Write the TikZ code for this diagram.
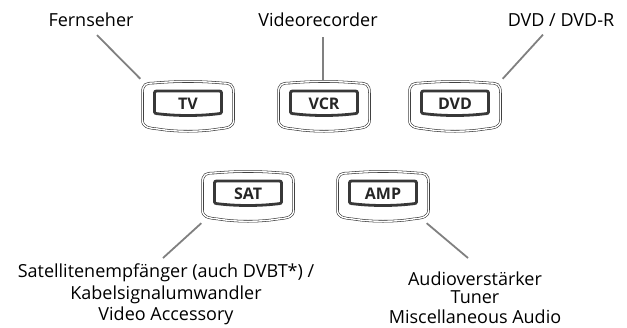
\documentclass[tikz,border=0pt]{standalone}
\usepackage{fontspec}
\setmainfont{Open Sans}
\begin{document}
\begin{tikzpicture}[x=1pt,y=-1pt,
  lbl/.style={font=\fontsize{18}{21.5}\selectfont, align=center, inner sep=0pt, text=black},
  btntext/.style={font=\fontsize{16}{18}\selectfont\bfseries, text=black!85, inner sep=0pt},
  conn/.style={draw=black!50, line width=1.8pt},
  outerline/.style={draw=black!85, line width=0.55pt, double=white, double distance=1.4pt},
  innerline/.style={draw=black!78, line width=2.8pt},
  btnhold/.style={minimum width=91pt, minimum height=50pt, inner sep=0pt}
]
\useasboundingbox (0,0) rectangle (627,327);
\newcommand\btnframe[1]{%
  \draw[outerline] ([shift={(-45.5,-14)}]#1.center)
     .. controls ([shift={(-45.5,-23)}]#1.center) and ([shift={(-42,-24)}]#1.center) .. ([shift={(-34,-24)}]#1.center)
     .. controls ([shift={(-12,-26)}]#1.center) and ([shift={(12,-26)}]#1.center) .. ([shift={(34,-24)}]#1.center)
     .. controls ([shift={(42,-24)}]#1.center) and ([shift={(45.5,-23)}]#1.center) .. ([shift={(45.5,-14)}]#1.center)
     -- ([shift={(45.5,13)}]#1.center)
     .. controls ([shift={(45.5,20)}]#1.center) and ([shift={(40,21)}]#1.center) .. ([shift={(30,22)}]#1.center)
     .. controls ([shift={(12,25)}]#1.center) and ([shift={(-12,25)}]#1.center) .. ([shift={(-30,22)}]#1.center)
     .. controls ([shift={(-40,21)}]#1.center) and ([shift={(-45.5,20)}]#1.center) .. ([shift={(-45.5,13)}]#1.center)
     -- cycle;
  \draw[innerline] ([shift={(-33.5,-12)}]#1.center)
     .. controls ([shift={(-33.5,-16)}]#1.center) .. ([shift={(-29,-16)}]#1.center)
     -- ([shift={(29,-16)}]#1.center)
     .. controls ([shift={(33.5,-16)}]#1.center) .. ([shift={(33.5,-12)}]#1.center)
     -- ([shift={(33.5,3)}]#1.center)
     .. controls ([shift={(33.5,6.5)}]#1.center) .. ([shift={(28,7)}]#1.center)
     .. controls ([shift={(10,9)}]#1.center) and ([shift={(-10,9)}]#1.center) .. ([shift={(-28,7)}]#1.center)
     .. controls ([shift={(-33.5,6.5)}]#1.center) .. ([shift={(-33.5,3)}]#1.center)
     -- cycle;
}
% buttons
\node[btnhold] (tv)  at (188,107) {};
\node[btnhold] (vcr) at (324,107) {};
\node[btnhold] (dvd) at (455,107) {};
\node[btnhold] (sat) at (248,197) {};
\node[btnhold] (amp) at (383,197) {};
\btnframe{tv}\btnframe{vcr}\btnframe{dvd}\btnframe{sat}\btnframe{amp}
\node[btntext] (tvt)  at ([shift={(0,-3.5)}]tv.center)  {TV};
\node[btntext] (vcrt) at ([shift={(0,-3.5)}]vcr.center) {VCR};
\node[btntext] (dvdt) at ([shift={(0,-3.5)}]dvd.center) {DVD};
\node[btntext] (satt) at ([shift={(0,-3.5)}]sat.center) {SAT};
\node[btntext] (ampt) at ([shift={(0,-3.5)}]amp.center) {AMP};
% labels
\node[lbl] (fern) at (91,20) {Fernseher};
\node[lbl] (video) at (318,20) {Videorecorder};
\node[lbl] (dvdl) at (561,20) {DVD / DVD-R};
\node[lbl, anchor=north] (satl) at (166,264) {Satellitenempfänger (auch DVBT*) /\\ Kabelsignalumwandler\\ Video Accessory};
\node[lbl, anchor=north, font=\fontsize{18}{17.5}\selectfont] (ampl) at (475,272) {Audioverstärker\\ Tuner\\[3pt] Miscellaneous Audio};
% connectors
\draw[conn] ([shift={(6,8)}]fern.south) -- ([shift={(-2,-3)}]tv.north west);
\draw[conn] ([shift={(5,10)}]video.south) -- ([shift={(-1,-1)}]vcr.north);
\draw[conn] ([shift={(-18,8)}]dvdl.south) -- ([shift={(2,-3)}]dvd.north east);
\draw[conn] ([shift={(-1,1)}]sat.south west) -- ([shift={(-3,-6)}]satl.north);
\draw[conn] ([shift={(-2,1)}]amp.south east) -- ([shift={(-7,-14)}]ampl.north);
\end{tikzpicture}
\end{document}
